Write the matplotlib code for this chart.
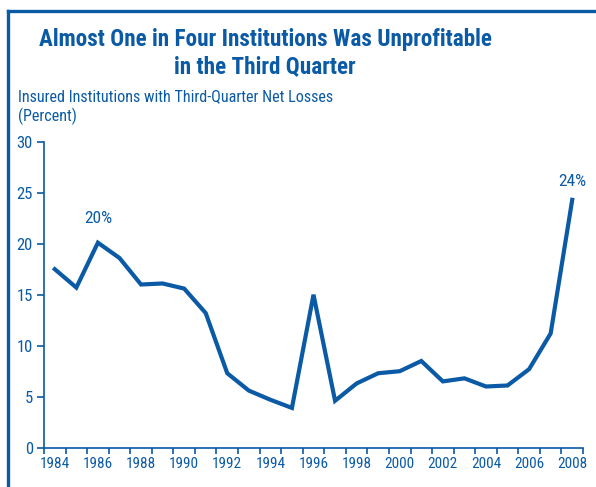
import matplotlib
matplotlib.use("Agg")
import matplotlib.pyplot as plt
from matplotlib.lines import Line2D
import numpy as np

years = list(range(1984, 2009))
pct_losses = [17.5, 15.7, 20.1, 18.6, 16.0, 16.1, 15.6, 13.2, 7.3, 5.6, 4.7, 3.9,
              15.0, 4.6, 6.3, 7.3, 7.5, 8.5, 6.5, 6.8, 6.0, 6.1, 7.7, 11.2, 24.3]
year_labels = [str(y) for y in range(1984, 2009, 2)]
y_ticks = [0, 5, 10, 15, 20, 25, 30]
annotations = {1986: "20%", 2008: "24%"}

title = "Almost One in Four Institutions Was Unprofitable\nin the Third Quarter"
subtitle = "Insured Institutions with Third-Quarter Net Losses\n(Percent)"

BLUE = "#0a5aa5"
FONT = ["Roboto Condensed", "DejaVu Sans"]
plt.rcParams['font.family'] = FONT

fig = plt.figure(figsize=(5.96, 4.87), dpi=100)
ax = fig.add_axes([44/596, 1-447.7/487, (583-44)/596, (447.7-141.7)/487])

ax.plot(years, pct_losses, color=BLUE, lw=3.0, solid_joinstyle='miter', clip_on=False)
ax.set_xlim(1983.5, 2008.5)
ax.set_ylim(0, 30)

for s in ['top', 'right']:
    ax.spines[s].set_visible(False)
for s in ['left', 'bottom']:
    ax.spines[s].set_color(BLUE)
    ax.spines[s].set_linewidth(1.2)

ax.set_yticks(y_ticks)
ax.set_yticklabels([str(v) for v in y_ticks], fontsize=12, color=BLUE)
ax.tick_params(axis='y', length=5, width=1.2, color=BLUE, pad=3)

ax.set_xticks(np.arange(1983.5, 2009.0, 1.0))
ax.set_xticklabels([])
ax.tick_params(axis='x', which='major', length=4, width=1.2, color=BLUE)
ax.set_xticks(range(1984, 2009, 2), minor=True)
ax.set_xticklabels(year_labels, minor=True, fontsize=11, color=BLUE)
ax.tick_params(axis='x', which='minor', length=0, pad=7)

offsets = {1986: 12, 2008: 8}
for yr, txt in annotations.items():
    v = pct_losses[years.index(yr)]
    ax.annotate(txt, (yr, v), xytext=(0, offsets[yr]), textcoords='offset points',
                ha='center', va='bottom', fontsize=12.5, color=BLUE)

fig.text(265/596, 1-53/487, title, ha='center', va='center', fontsize=16.7,
         fontweight='bold', color=BLUE, linespacing=1.22)
fig.text(18/596, 1-107/487, subtitle, ha='left', va='center', fontsize=11.6,
         color=BLUE, linespacing=1.3)

fig.add_artist(Line2D([8/596, 8/596], [0, 1-11/487], transform=fig.transFigure,
                      color=BLUE, lw=2.4, solid_capstyle='projecting'))
fig.add_artist(Line2D([8/596, 1], [1-11/487, 1-11/487], transform=fig.transFigure,
                      color=BLUE, lw=2.4, solid_capstyle='projecting'))

fig.savefig("out.png", dpi=100)
